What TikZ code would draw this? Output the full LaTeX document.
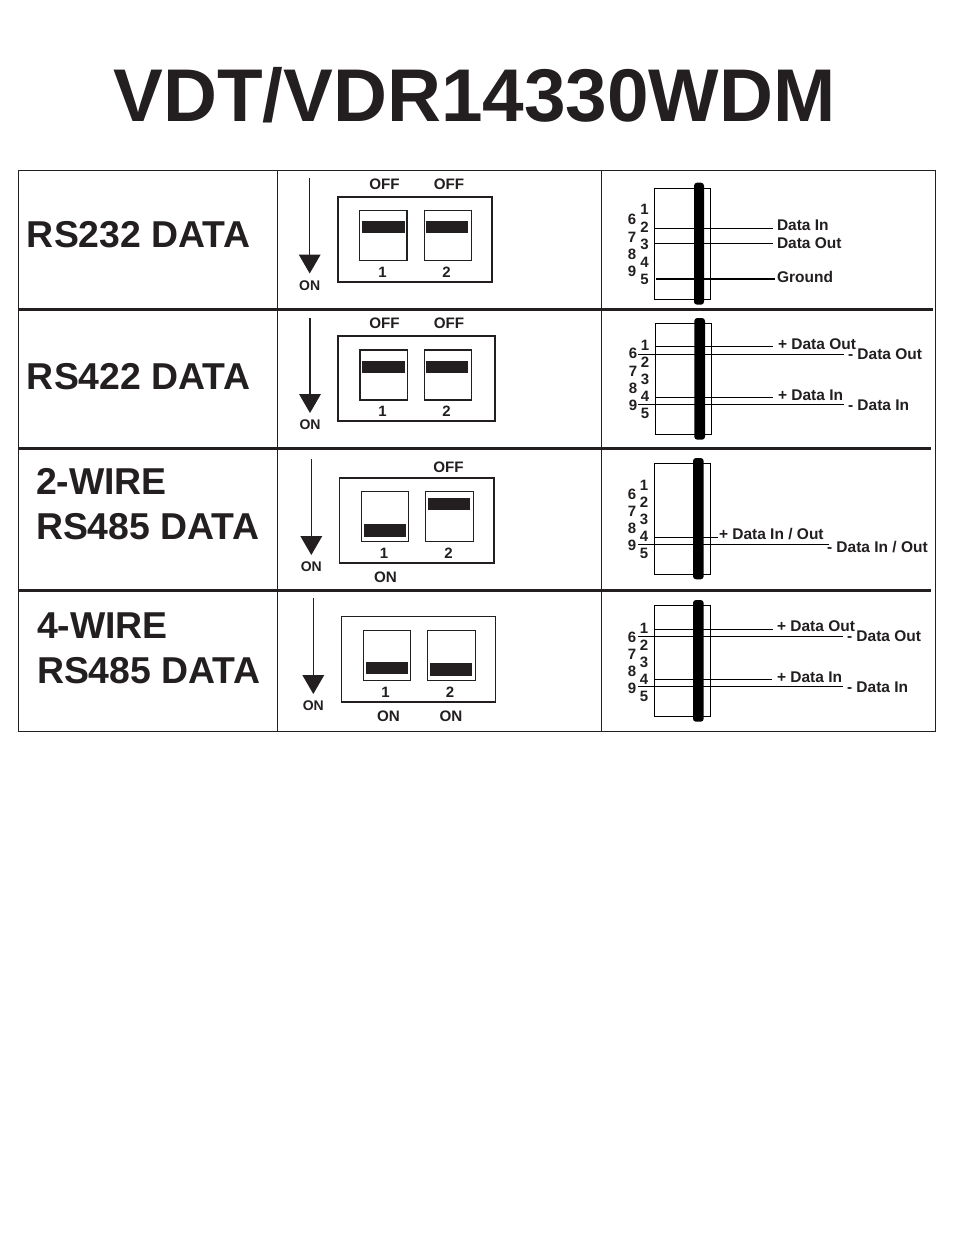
\documentclass[tikz,border=0pt]{standalone}
\usepackage{fontspec}
\setmainfont{Liberation Sans}
\definecolor{ink}{HTML}{231F20}
\newcommand{\fs}[1]{\fontsize{#1}{#1}\selectfont\bfseries}
\tikzset{
  txt/.style={inner sep=0,outer sep=0,text=ink,text depth=0pt},
  small/.style={txt,font=\fs{15.2},text height=10.9pt},
  onlab/.style={txt,font=\fs{14},text height=10pt},
  pin/.style={txt,font=\fs{15},text height=10.7pt},
  head/.style={txt,font=\fs{37.4},text height=26.8pt,anchor=west},
  sig/.style={txt,font=\fs{15.5},text height=11.1pt,anchor=west},
  wire/.style={draw=black,line width=1pt},
  gndwire/.style={draw=black,line width=2pt},
  stem/.style={draw=ink,line width=1.4pt},
  thinstem/.style={draw=ink,line width=1pt},
  arrowhd/.style={fill=ink},
  dipbox/.style={draw=ink,line width=1.6pt},
  swbox/.style={draw=ink,line width=1.2pt,fill=white},
  swbar/.style={fill=ink},
  hostbox/.style={draw=black,line width=.8pt},
  spine/.style={fill=black,rounded corners=3pt},
  rule/.style={draw=ink,line width=3pt},
  frame/.style={draw=ink,line width=1pt},
}
% on-arrow: stem style, name, x, y top, y base of head, y tip, y label
\newcommand{\onarrow}[7]{%
  \coordinate (#2s) at (#3,#4);
  \coordinate (#2b) at (#3,#5);
  \draw[#1] (#2s) -- (#2b);
  \fill[arrowhd] (#3-11,#5) -- (#3+11,#5) -- (#3,#6) -- cycle;
  \node[onlab] (#2l) at (#3,#7) {ON};
}
% switch: x1,y1,x2,y2, bar x1,y1,x2,y2
\newcommand{\sw}[8]{%
  \draw[swbox] (#1,#2) rectangle (#3,#4);
  \fill[swbar] (#5,#6) rectangle (#7,#8);
}
% pins: x of 1-5, y of 1..5
\newcommand{\pinsa}[6]{%
  \node[pin] at (#1,#2) {1};
  \node[pin] at (#1,#3) {2};
  \node[pin] at (#1,#4) {3};
  \node[pin] at (#1,#5) {4};
  \node[pin] at (#1,#6) {5};
}
% pins: x of 6-9, y of 6..9
\newcommand{\pinsb}[5]{%
  \node[pin] at (#1,#2) {6};
  \node[pin] at (#1,#3) {7};
  \node[pin] at (#1,#4) {8};
  \node[pin] at (#1,#5) {9};
}
\begin{document}
\begin{tikzpicture}[x=1pt,y=-1pt]
\useasboundingbox[fill=white] (0,0) rectangle (954,1235);
\node[txt,font=\fs{74.7},text height=53.5pt] (title) at (474.5,95) {VDT/VDR14330WDM};

% table
\draw[frame] (18.5,170.5) rectangle (935.5,731.5);
\draw[frame] (277.5,170.5) -- (277.5,731.5);
\draw[frame] (601.5,170.5) -- (601.5,731.5);

% left column
\node[head] (h1) at (27,234) {RS232 DATA};
\node[head] (h2) at (27,376) {RS422 DATA};
\node[head] (h3a) at (36,481) {2-WIRE};
\node[head] (h3b) at (36,526) {RS485 DATA};
\node[head] (h4a) at (37,625) {4-WIRE};
\node[head] (h4b) at (37,670) {RS485 DATA};

% row 1 switches
\onarrow{stem}{a1}{309.7}{178}{254.5}{273.5}{285}
\draw[dipbox] (338,196.8) rectangle (492.2,282);
\sw{359.5}{210.5}{407}{260.3}{362}{221}{405}{233}
\sw{424.5}{210.5}{471.7}{260.3}{426}{221}{468}{233}
\node[small] at (384.5,184) {OFF};
\node[small] at (449,184) {OFF};
\node[pin] at (382.5,272) {1};
\node[pin] at (446.5,272) {2};

% row 2 switches
\onarrow{stem}{a2}{310}{318}{394}{413}{424}
\draw[dipbox,line width=1.2pt] (338,336) rectangle (495,421);
\sw{360}{350}{407.5}{400}{362}{361}{405}{373}
\sw{424.5}{350}{471.7}{400}{426}{361}{468}{373}
\node[small] at (384.5,323) {OFF};
\node[small] at (449,323) {OFF};
\node[pin] at (382.5,411) {1};
\node[pin] at (446.5,411) {2};

% row 3 switches
\onarrow{thinstem}{a3}{311.3}{459}{536}{555}{566}
\draw[dipbox] (339.3,478) rectangle (494,563);
\sw{361.3}{491.3}{408.3}{541.7}{364}{524}{406}{537}
\sw{425.3}{491.3}{473.7}{541.7}{428}{498}{470}{510}
\node[small] at (448.5,467) {OFF};
\node[pin] at (384,553) {1};
\node[pin] at (448.5,553) {2};
\node[small] at (385.5,577) {ON};

% row 4 switches
\onarrow{thinstem}{a4}{313.3}{598}{675}{694}{705}
\draw[dipbox,line width=1pt] (341.3,702) -- (341.3,616.3) -- (495.7,616.3) -- (495.7,702);
\draw[dipbox,line width=2pt] (340.5,702) -- (495.7,702);
\sw{363.3}{630.3}{410.7}{680.5}{366}{662}{408}{674}
\sw{427.3}{630.3}{475.5}{680.5}{430}{663}{472}{676}
\node[pin] at (385.5,692) {1};
\node[pin] at (450,692) {2};
\node[small] at (388.5,716) {ON};
\node[small] at (451,716) {ON};

% row 1 connector
\node[sig] (r1a) at (777,225) {Data In};
\node[sig] (r1b) at (777,243) {Data Out};
\node[sig] (r1c) at (777,277) {Ground};
\coordinate (r1as) at (654.5,228.5);
\coordinate (r1bs) at (654.5,243.5);
\coordinate (r1cs) at (656,278.7);
\draw[hostbox] (654.5,188.5) rectangle (710.7,299.3);
\draw[wire] (r1as) -- ([xshift=-4pt]r1as -| r1a.west);
\draw[wire] (r1bs) -- ([xshift=-4pt]r1bs -| r1b.west);
\draw[gndwire] (r1cs) -- ([xshift=-2pt]r1cs -| r1c.west);
\fill[spine] (694,182.7) rectangle (704,304.7);
\pinsa{644.5}{209.5}{227.5}{244.5}{262}{279.5}
\pinsb{632}{219}{237}{254}{271}

% row 2 connector
\node[sig] (r2a) at (778,344) {+ Data Out};
\node[sig] (r2b) at (848,354) {- Data Out};
\node[sig] (r2c) at (778,395) {+ Data In};
\node[sig] (r2d) at (848,405) {- Data In};
\coordinate (r2as) at (655,346.2);
\coordinate (r2bs) at (638,354.2);
\coordinate (r2cs) at (655,397.3);
\coordinate (r2ds) at (638,404.3);
\draw[hostbox] (655,323.3) rectangle (711.7,434.3);
\draw[wire] (r2as) -- ([xshift=-5pt]r2as -| r2a.west);
\draw[wire] (r2bs) -- ([xshift=-4pt]r2bs -| r2b.west);
\draw[wire] (r2cs) -- ([xshift=-5pt]r2cs -| r2c.west);
\draw[wire] (r2ds) -- ([xshift=-4pt]r2ds -| r2d.west);
\fill[spine] (694.3,318) rectangle (705,439.7);
\pinsa{645}{345}{362}{379}{396}{413}
\pinsb{633}{353}{371}{388}{405}

% row 3 connector
\node[sig] (r3a) at (719,534) {+ Data In / Out};
\node[sig] (r3b) at (827,547) {- Data In / Out};
\coordinate (r3as) at (654.5,537.4);
\coordinate (r3bs) at (638,544.4);
\draw[hostbox] (654.5,463.3) rectangle (710.7,574.3);
\draw[wire] (r3as) -- ([xshift=-1pt]r3as -| r3a.west);
\draw[wire] (r3bs) -- ([xshift=2pt]r3bs -| r3b.west);
\fill[spine] (693,458) rectangle (703.7,579.3);
\pinsa{644}{485}{502}{519}{536}{553}
\pinsb{632}{494}{511}{528}{545}

% row 4 connector
\node[sig] (r4a) at (777,626) {+ Data Out};
\node[sig] (r4b) at (847,636) {- Data Out};
\node[sig] (r4c) at (777,677) {+ Data In};
\node[sig] (r4d) at (847,687) {- Data In};
\coordinate (r4as) at (654.5,629.3);
\coordinate (r4bs) at (638,636.3);
\coordinate (r4cs) at (654.5,679.3);
\coordinate (r4ds) at (638,686.3);
\draw[hostbox] (654.5,605.3) rectangle (710.7,716);
\draw[wire] (r4as) -- ([xshift=-4pt]r4as -| r4a.west);
\draw[wire] (r4bs) -- ([xshift=-4pt]r4bs -| r4b.west);
\draw[wire] (r4cs) -- ([xshift=-5pt]r4cs -| r4c.west);
\draw[wire] (r4ds) -- ([xshift=-4pt]r4ds -| r4d.west);
\fill[spine] (693,600) rectangle (703.7,721.7);
\pinsa{644}{628}{645}{662}{679}{696}
\pinsb{632}{637}{654}{671}{688}

% heavy row rules
\draw[rule] (18,309.5) -- (933,309.5);
\draw[rule] (18,448.5) -- (931,448.5);
\draw[rule] (18,590) -- (931,590);
\end{tikzpicture}
\end{document}
